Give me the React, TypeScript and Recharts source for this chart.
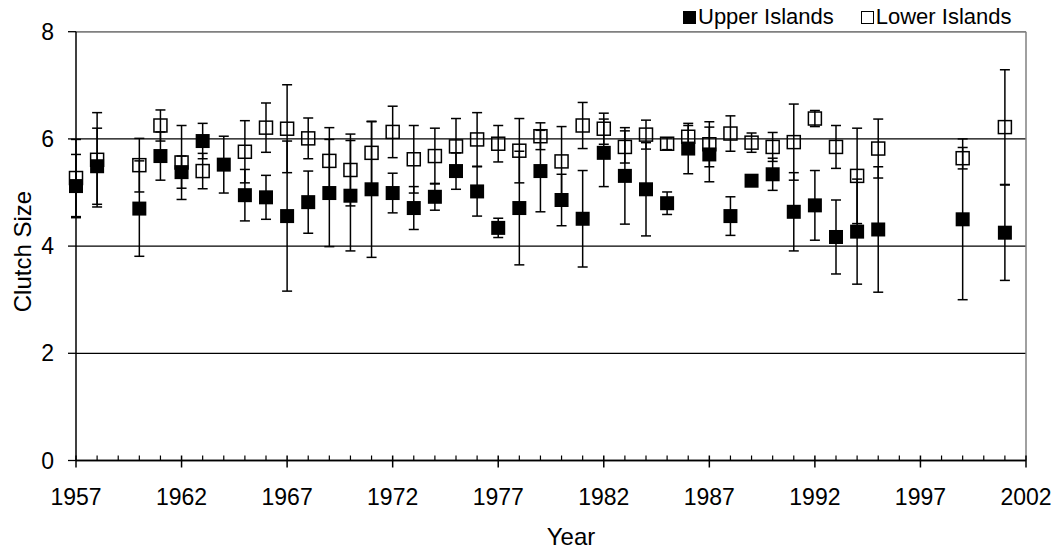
import React from "react";
import {
  ScatterChart,
  Scatter,
  XAxis,
  YAxis,
  CartesianGrid,
  ErrorBar,
  ReferenceLine,
  Legend,
} from "recharts";

const FONT = "'Liberation Sans', Arial, sans-serif";

// year axis
const MAJOR_YEARS = [1957, 1962, 1967, 1972, 1977, 1982, 1987, 1992, 1997, 2002];
const ALL_YEARS = Array.from({ length: 2002 - 1957 + 1 }, (_, i) => 1957 + i);
const Y_TICKS = [0, 2, 4, 6, 8];

// Upper Islands (filled squares)
const UPPER_YEARS = [
  1957, 1958, 1960, 1961, 1962, 1963, 1964, 1965, 1966, 1967, 1968, 1969, 1970,
  1971, 1972, 1973, 1974, 1975, 1976, 1977, 1978, 1979, 1980, 1981, 1982, 1983,
  1984, 1985, 1986, 1987, 1988, 1989, 1990, 1991, 1992, 1993, 1994, 1995, 1999,
  2001,
];
const UPPER_MEAN = [
  5.12, 5.49, 4.7, 5.68, 5.38, 5.96, 5.52, 4.95, 4.91, 4.56, 4.82, 4.99, 4.94,
  5.06, 4.99, 4.71, 4.92, 5.4, 5.02, 4.34, 4.71, 5.4, 4.86, 4.51, 5.74, 5.31,
  5.06, 4.8, 5.82, 5.71, 4.56, 5.22, 5.34, 4.64, 4.76, 4.17, 4.27, 4.31, 4.5,
  4.25,
];
const UPPER_SD = [
  0.59, 0.71, 0.89, 0.45, 0.3, 0.33, 0.53, 0.48, 0.41, 1.4, 0.58, 1.0, 1.03,
  1.27, 0.37, 0.4, 0.25, 0.34, 0.46, 0.18, 1.06, 0.76, 0.48, 0.9, 0.63, 0.9,
  0.87, 0.21, 0.47, 0.51, 0.36, 0.06, 0.3, 0.73, 0.65, 0.69, 0.98, 1.17, 1.5,
  0.89,
];

// Lower Islands (open squares)
const LOWER_YEARS = [
  1957, 1958, 1960, 1961, 1962, 1963, 1965, 1966, 1967, 1968, 1969, 1970, 1971,
  1972, 1973, 1974, 1975, 1976, 1977, 1978, 1979, 1980, 1981, 1982, 1983, 1984,
  1985, 1986, 1987, 1988, 1989, 1990, 1991, 1992, 1993, 1994, 1995, 1999, 2001,
];
const LOWER_MEAN = [
  5.27, 5.61, 5.51, 6.25, 5.56, 5.4, 5.76, 6.21, 6.19, 6.01, 5.59, 5.42, 5.74,
  6.13, 5.62, 5.68, 5.86, 5.99, 5.91, 5.78, 6.05, 5.58, 6.25, 6.19, 5.85, 6.08,
  5.91, 6.04, 5.9, 6.1, 5.93, 5.85, 5.94, 6.38, 5.85, 5.31, 5.82, 5.64, 6.22,
];
const LOWER_SD = [
  0.72, 0.88, 0.5, 0.29, 0.69, 0.33, 0.58, 0.46, 0.82, 0.38, 0.62, 0.67, 0.58,
  0.48, 0.63, 0.52, 0.52, 0.5, 0.34, 0.6, 0.25, 0.65, 0.43, 0.29, 0.3, 0.27,
  0.11, 0.21, 0.42, 0.33, 0.18, 0.27, 0.71, 0.15, 0.4, 0.89, 0.55, 0.2, 1.07,
];

const upperData = UPPER_YEARS.map((year, i) => ({
  year,
  mean: UPPER_MEAN[i],
  err: UPPER_SD[i],
}));
const lowerData = LOWER_YEARS.map((year, i) => ({
  year,
  mean: LOWER_MEAN[i],
  err: LOWER_SD[i],
}));

const FilledSquare = (p: any) => (
  <rect x={p.cx - 7} y={p.cy - 7} width={14} height={14} fill="#000" />
);

const OpenSquare = (p: any) => (
  <rect
    x={p.cx - 6.5}
    y={p.cy - 6.5}
    width={13}
    height={13}
    fill="none"
    stroke="#000"
    strokeWidth={1.5}
  />
);

function YearTick(props: any) {
  const { x, y, payload } = props;
  const major = MAJOR_YEARS.includes(payload.value);
  return (
    <g>
      {major ? (
        <line x1={x} x2={x} y1={y - 5} y2={y + 7} stroke="#000" strokeWidth={1.5} />
      ) : (
        <line x1={x} x2={x} y1={y - 5} y2={y} stroke="#000" strokeWidth={1.2} />
      )}
      {major && (
        <text
          x={x}
          y={y + 44.5}
          textAnchor="middle"
          fontSize={23}
          fontFamily={FONT}
          fill="#000"
        >
          {payload.value}
        </text>
      )}
    </g>
  );
}

function YTitle(props: any) {
  const vb = props.viewBox || { y: 31.7, height: 428.8 };
  const cx = 31.5;
  const cy = vb.y + vb.height / 2 + 5.5;
  return (
    <text
      x={cx}
      y={cy}
      transform={`rotate(-90, ${cx}, ${cy})`}
      textAnchor="middle"
      fontSize={24}
      fontFamily={FONT}
      fill="#000"
    >
      Clutch Size
    </text>
  );
}

function LegendBox() {
  const sq = { width: 13, height: 13, boxSizing: "border-box" as const };
  return (
    <div
      style={{
        display: "flex",
        alignItems: "center",
        fontFamily: FONT,
        fontSize: 22,
        lineHeight: "22px",
        color: "#000",
        whiteSpace: "nowrap",
      }}
    >
      <span style={{ ...sq, background: "#000", marginRight: 2 }} />
      <span>Upper Islands</span>
      <span
        style={{ ...sq, border: "1.5px solid #000", marginLeft: 27, marginRight: 2 }}
      />
      <span>Lower Islands</span>
    </div>
  );
}

export default function App() {
  return (
    <div style={{ position: "absolute", left: 0, top: 0, background: "#fff" }}>
      <ScatterChart
        width={1055}
        height={550}
        margin={{ top: 31.7, right: 29, bottom: 0, left: 0 }}
      >
        <CartesianGrid
          horizontal
          vertical={false}
          stroke="#000"
          strokeWidth={1.3}
        />
        <XAxis
          type="number"
          dataKey="year"
          domain={[1957, 2002]}
          ticks={ALL_YEARS}
          interval={0}
          height={89.5}
          tickSize={0}
          tickMargin={0}
          tickLine={false}
          tick={<YearTick />}
          axisLine={{ stroke: "#000", strokeWidth: 1.5 }}
          label={{
            value: "Year",
            position: "insideBottom",
            offset: 5,
            dx: 20,
            fill: "#000",
            fontSize: 24,
            fontFamily: FONT,
          }}
        />
        <YAxis
          type="number"
          dataKey="mean"
          domain={[0, 8]}
          ticks={Y_TICKS}
          interval={0}
          width={76}
          tickSize={8}
          tickMargin={14}
          tickLine={{ stroke: "#000", strokeWidth: 1.3 }}
          axisLine={{ stroke: "#000", strokeWidth: 1.5 }}
          tick={{ fill: "#000", fontSize: 23, fontFamily: FONT }}
          label={{ content: YTitle }}
        />
        <ReferenceLine y={8} stroke="#808080" strokeWidth={1.5} />
        <ReferenceLine x={2002} stroke="#808080" strokeWidth={1.5} />
        <Legend
          layout="horizontal"
          verticalAlign="middle"
          align="center"
          wrapperStyle={{ top: 6, left: 683, width: 360 }}
          content={<LegendBox />}
        />
        <Scatter
          name="Lower Islands"
          data={lowerData}
          shape={OpenSquare}
          isAnimationActive={false}
        >
          <ErrorBar
            dataKey="err"
            direction="y"
            width={5}
            stroke="#000"
            strokeWidth={1.5}
            isAnimationActive={false}
          />
        </Scatter>
        <Scatter
          name="Upper Islands"
          data={upperData}
          shape={FilledSquare}
          isAnimationActive={false}
        >
          <ErrorBar
            dataKey="err"
            direction="y"
            width={5}
            stroke="#000"
            strokeWidth={1.5}
            isAnimationActive={false}
          />
        </Scatter>
      </ScatterChart>
    </div>
  );
}
